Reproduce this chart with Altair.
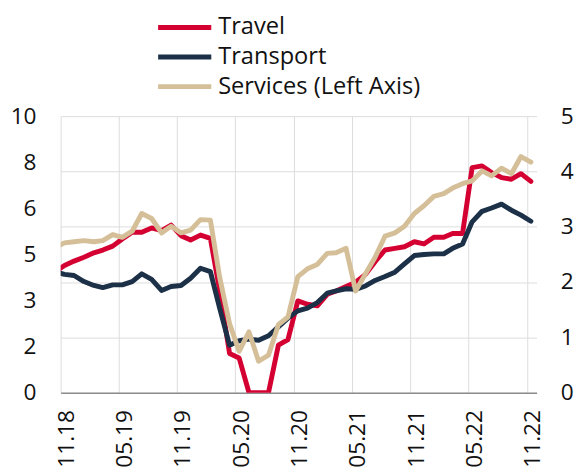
import altair as alt
import pandas as pd

# monthly observations, Oct 2018 .. Nov 2022 (mid-month dates)
months = pd.date_range("2018-10-13", periods=50, freq=pd.DateOffset(months=1)).strftime("%Y-%m-%d")

travel = [2.18, 2.30, 2.38, 2.45, 2.53, 2.58, 2.65, 2.78, 2.90, 2.90,
          2.98, 2.93, 3.03, 2.84, 2.76, 2.85, 2.79, 1.85, 0.71, 0.63,
          0.00, 0.00, 0.00, 0.86, 0.96, 1.66, 1.60, 1.57, 1.78, 1.84,
          1.92, 2.00, 2.14, 2.37, 2.58, 2.61, 2.64, 2.73, 2.69, 2.81,
          2.81, 2.88, 2.88, 4.07, 4.10, 3.98, 3.89, 3.86, 3.96, 3.82]

transport = [2.19, 2.14, 2.12, 2.01, 1.94, 1.90, 1.95, 1.95, 2.01, 2.15,
             2.05, 1.85, 1.92, 1.94, 2.07, 2.25, 2.19, 1.53, 0.86, 0.94,
             0.97, 0.95, 1.03, 1.19, 1.35, 1.48, 1.53, 1.63, 1.80, 1.84,
             1.88, 1.87, 1.93, 2.03, 2.10, 2.18, 2.33, 2.48, 2.50, 2.51,
             2.51, 2.61, 2.69, 3.09, 3.28, 3.34, 3.41, 3.30, 3.21, 3.10]

services = [5.24, 5.42, 5.46, 5.50, 5.46, 5.50, 5.72, 5.62, 5.84, 6.48,
            6.30, 5.78, 6.02, 5.78, 5.88, 6.26, 6.24, 4.18, 2.50, 1.50,
            2.20, 1.14, 1.36, 2.46, 2.74, 4.20, 4.48, 4.64, 5.04, 5.06,
            5.22, 3.68, 4.30, 4.90, 5.66, 5.78, 6.02, 6.48, 6.76, 7.10,
            7.20, 7.40, 7.56, 7.66, 8.02, 7.84, 8.12, 7.92, 8.54, 8.34]

series_names = ["Travel", "Transport", "Services (Left Axis)"]
series_colors = ["#d50032", "#1c3148", "#d5bf99"]

tick_dates = ["2018-11-01", "2019-05-01", "2019-11-01", "2020-05-01", "2020-11-01",
              "2021-05-01", "2021-11-01", "2022-05-01", "2022-11-01"]
x_domain = ["2018-11-01", "2022-12-01"]
left_ticks = [0, 1.6667, 3.3333, 5, 6.6667, 8.3333, 10]
left_tick_labels = ["0", "2", "3", "5", "6", "8", "10"]
right_ticks = [0, 1, 2, 3, 4, 5]


def ms(d):
    return int(pd.Timestamp(d, tz="UTC").value // 10**6)


df = pd.DataFrame({"date": months, "Travel": travel, "Transport": transport,
                   "Services (Left Axis)": services})
long = df.melt("date", var_name="series", value_name="value")

FONT = "Open Sans"
FS = 23

x_enc = alt.X(
    "date:T",
    title=None,
    scale=alt.Scale(type="utc", domain=[ms(d) for d in x_domain]),
    axis=alt.Axis(values=[ms(d) for d in tick_dates],
                  labelExpr="utcFormat(datum.value, '%m.%y')",
                  labelAngle=270, labelPadding=17, labelOffset=6, ticks=False, grid=True,
                  domain=True, domainColor="#8c8c8c", domainWidth=1.5),
)

color_enc = alt.Color(
    "series:N",
    scale=alt.Scale(domain=series_names, range=series_colors),
    legend=alt.Legend(title=None, orient="none", legendX=114, legendY=-102,
                      symbolType="M-3,0H3", symbolSize=324, symbolStrokeWidth=5,
                      labelOffset=22, rowPadding=6, padding=0, labelLimit=0,
                      labelFont=FONT, labelFontSize=24, labelColor="#111111"),
)

base = alt.Chart(long).mark_line(strokeWidth=5, clip=True, strokeJoin="round", strokeCap="round")

right_y = alt.Y("value:Q", title=None, scale=alt.Scale(domain=[0, 5]),
                axis=alt.Axis(orient="right", values=right_ticks, grid=True,
                              domain=False, ticks=False, labelPadding=24))
left_y = alt.Y("value:Q", title=None, scale=alt.Scale(domain=[0, 10]),
               axis=alt.Axis(orient="left", values=left_ticks, grid=False,
                             domain=False, ticks=False, labelPadding=25,
                             labelExpr=f"{left_tick_labels}[round(datum.value*0.6)]"))

travel_line = base.transform_filter(alt.datum.series == "Travel").encode(x=x_enc, y=right_y, color=color_enc)
transport_line = base.transform_filter(alt.datum.series == "Transport").encode(x=x_enc, y=right_y, color=color_enc)
services_line = base.transform_filter(alt.datum.series == "Services (Left Axis)").encode(x=x_enc, y=left_y, color=color_enc)

right_layer = alt.layer(travel_line, transport_line)

chart = alt.layer(right_layer, services_line).resolve_scale(y="independent").properties(
    width=483.5, height=281,
    autosize="none",
    padding={"left": 53.5, "top": 106, "right": 40, "bottom": 100},
).configure_view(stroke=None).configure_axis(
    labelFont=FONT, labelFontSize=FS, labelColor="#111111",
    gridColor="#dcdcdc", gridWidth=1,
)

chart.save("out.html", embed_options={"renderer": "svg", "actions": False})
